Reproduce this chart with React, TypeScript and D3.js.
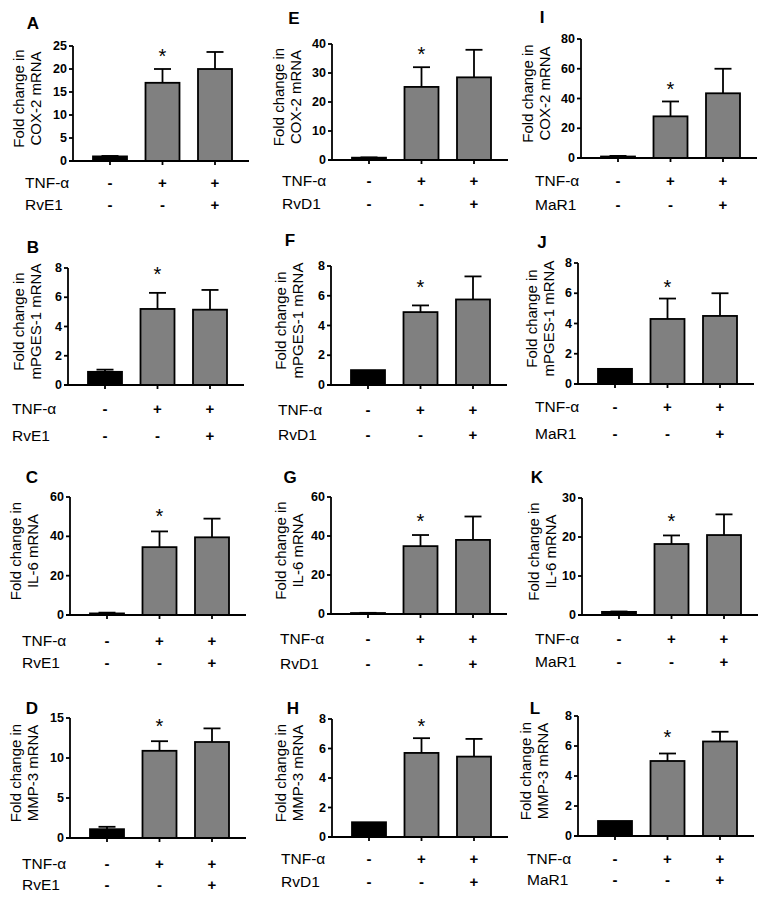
import React from 'react';
import * as d3 from 'd3';

// ---- data ----
const letters = ['A', 'B', 'C', 'D', 'E', 'F', 'G', 'H', 'I', 'J', 'K', 'L'];
const genes = ['COX-2', 'mPGES-1', 'IL-6', 'MMP-3'];
const mediators = ['RvE1', 'RvD1', 'MaR1'];
const tnfSigns = ['-', '+', '+'];
const mediatorSigns = ['-', '-', '+'];
const yMaxes = [25, 8, 60, 15, 40, 8, 60, 8, 80, 8, 30, 8];
const yTicks = [
  [0, 5, 10, 15, 20, 25], [0, 2, 4, 6, 8], [0, 20, 40, 60], [0, 5, 10, 15],
  [0, 10, 20, 30, 40], [0, 2, 4, 6, 8], [0, 20, 40, 60], [0, 2, 4, 6, 8],
  [0, 20, 40, 60, 80], [0, 2, 4, 6, 8], [0, 10, 20, 30], [0, 2, 4, 6, 8],
];
const controlMeans = [1, 0.9, 0.8, 1.1, 0.8, 1, 0.5, 1, 1, 1, 0.8, 1];
const tnfMeans = [17, 5.2, 34.5, 10.9, 25.2, 4.9, 34.8, 5.7, 28, 4.3, 18.2, 5.0];
const tnfMediatorMeans = [20, 5.15, 39.5, 12, 28.5, 5.75, 38, 5.45, 43.5, 4.5, 20.5, 6.3];
const controlSem = [0.1, 0.15, 0.4, 0.3, 0.1, 0, 0.1, 0, 0.4, 0, 0.1, 0];
const tnfSem = [3, 1.1, 8, 1.2, 6.8, 0.45, 5.7, 1.0, 10, 1.35, 2.2, 0.5];
const tnfMediatorSem = [3.7, 1.35, 9.5, 1.7, 9.5, 1.55, 12, 1.2, 16.5, 1.5, 5.3, 0.65];
const starValues = [23.7, 7.86, 52.4, 14.5, 37.9, 6.86, 49.7, 7.8, 49, 6.68, 25.1, 6.87];

// ---- layout (pixels) ----
type L = { x0: number; yTop: number; y0: number; r1: number; r2: number; lx: number; yl: number; px: number; py: number };
const layout: L[] = [
  { x0: 73, yTop: 46, y0: 161, r1: 182, r2: 204, lx: 25, yl: 18, px: 33, py: 23 },
  { x0: 68, yTop: 268, y0: 385, r1: 408, r2: 435, lx: 12, yl: 18, px: 33, py: 247 },
  { x0: 70, yTop: 497, y0: 615, r1: 640, r2: 662, lx: 22, yl: 15, px: 32, py: 477 },
  { x0: 70, yTop: 718, y0: 838, r1: 863, r2: 884, lx: 22, yl: 15, px: 32, py: 708 },
  { x0: 332, yTop: 44, y0: 160, r1: 180, r2: 203, lx: 282, yl: 278, px: 294, py: 18 },
  { x0: 331, yTop: 266, y0: 385, r1: 409, r2: 434, lx: 278, yl: 280, px: 290, py: 240 },
  { x0: 331, yTop: 497, y0: 614, r1: 638, r2: 663, lx: 280, yl: 280, px: 290, py: 477 },
  { x0: 332, yTop: 719, y0: 837, r1: 858, r2: 881, lx: 281, yl: 280, px: 293, py: 708 },
  { x0: 581, yTop: 39, y0: 158, r1: 180, r2: 204, lx: 535, yl: 527, px: 542, py: 17 },
  { x0: 578, yTop: 263, y0: 384, r1: 406, r2: 433, lx: 535, yl: 531, px: 542, py: 242 },
  { x0: 582, yTop: 498, y0: 615, r1: 638, r2: 661, lx: 535, yl: 533, px: 537, py: 477 },
  { x0: 578, yTop: 716, y0: 836, r1: 858, r2: 879, lx: 527, yl: 525, px: 535, py: 708 },
];

const FONT = "'Liberation Sans', Arial, Helvetica, sans-serif";
const GREY = '#808080';
const SW = 1.8;

function Panel({ i }: { i: number }) {
  const l = layout[i];
  const means = [controlMeans[i], tnfMeans[i], tnfMediatorMeans[i]];
  const sems = [controlSem[i], tnfSem[i], tnfMediatorSem[i]];
  const y = d3.scaleLinear().domain([0, yMaxes[i]]).range([l.y0, l.yTop]);
  const x = d3.scalePoint<number>().domain([0, 1, 2]).range([l.x0 + 37, l.x0 + 142]);
  const bw = 34;
  const cap = 17;
  const xEnd = l.x0 + 176;
  const gene = genes[i % 4];
  const med = mediators[Math.floor(i / 4)];
  const midY = (l.yTop + l.y0) / 2 - 5;
  return (
    <g>
      <text x={l.px} y={l.py} fontFamily={FONT} fontWeight="bold" fontSize={17} textAnchor="middle" dominantBaseline="central">{letters[i]}</text>
      {/* y label */}
      <text transform={`translate(${l.yl},${midY}) rotate(-90)`} fontFamily={FONT} fontSize={15} textAnchor="middle" dominantBaseline="central">Fold change in</text>
      <text transform={`translate(${l.yl + 17},${midY}) rotate(-90)`} fontFamily={FONT} fontSize={15} textAnchor="middle" dominantBaseline="central">{`${gene} mRNA`}</text>
      {/* bars */}
      {means.map((m, k) => {
        const cx = x(k)!;
        const top = y(m);
        const errTop = y(m + sems[k]);
        return (
          <g key={k}>
            {sems[k] > 0 && (
              <g stroke="#000" strokeWidth={SW}>
                <line x1={cx} x2={cx} y1={top} y2={errTop} />
                <line x1={cx - cap / 2} x2={cx + cap / 2} y1={errTop} y2={errTop} />
              </g>
            )}
            <rect x={cx - bw / 2} y={top} width={bw} height={l.y0 - top} fill={k === 0 ? '#000' : GREY} stroke="#000" strokeWidth={SW} />
          </g>
        );
      })}
      {/* star */}
      <text x={x(1)!} y={y(starValues[i]) + 11} fontFamily={FONT} fontSize={20} textAnchor="middle">*</text>
      {/* axes */}
      <g stroke="#000" strokeWidth={SW}>
        <line x1={l.x0} x2={l.x0} y1={l.yTop} y2={l.y0} />
        {yTicks[i].map((t) => (
          <line key={t} x1={l.x0 - 4} x2={l.x0} y1={y(t)} y2={y(t)} />
        ))}
        <line x1={l.x0 - 4} x2={xEnd} y1={l.y0} y2={l.y0} />
        {[0, 1, 2].map((k) => (
          <line key={k} x1={x(k)!} x2={x(k)!} y1={l.y0} y2={l.y0 + 4} />
        ))}
      </g>
      {yTicks[i].map((t) => (
        <text key={t} x={l.x0 - 6} y={y(t)} fontFamily={FONT} fontWeight="bold" fontSize={12.5} textAnchor="end" dominantBaseline="central">{t}</text>
      ))}
      {/* treatment rows */}
      <text x={l.lx} y={l.r1} fontFamily={FONT} fontSize={15.5} dominantBaseline="central">TNF-α</text>
      <text x={l.lx} y={l.r2} fontFamily={FONT} fontSize={15.5} dominantBaseline="central">{med}</text>
      {tnfSigns.map((s, k) => (
        <text key={'t' + k} x={x(k)!} y={l.r1} fontFamily={FONT} fontWeight="bold" fontSize={15} textAnchor="middle" dominantBaseline="central">{s}</text>
      ))}
      {mediatorSigns.map((s, k) => (
        <text key={'m' + k} x={x(k)!} y={l.r2} fontFamily={FONT} fontWeight="bold" fontSize={15} textAnchor="middle" dominantBaseline="central">{s}</text>
      ))}
    </g>
  );
}

export default function App() {
  return (
    <svg width={766} height={900} style={{ position: 'absolute', left: 0, top: 0, background: '#fff' }}>
      <rect width={766} height={900} fill="#fff" />
      {letters.map((_, i) => (
        <Panel key={i} i={i} />
      ))}
    </svg>
  );
}
